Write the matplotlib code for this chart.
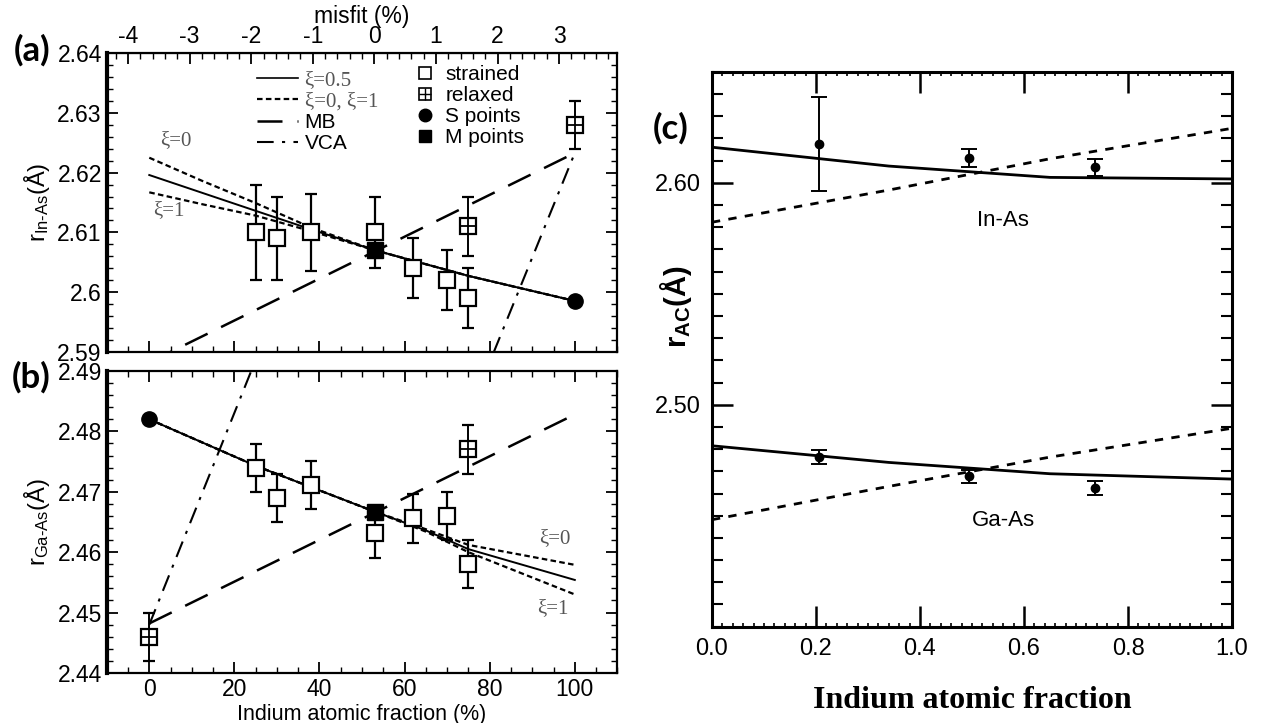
import matplotlib
matplotlib.use('Agg')
import matplotlib.pyplot as plt
from matplotlib.ticker import MultipleLocator, FuncFormatter
from matplotlib.lines import Line2D

plt.rcParams['font.family'] = ['Liberation Sans', 'DejaVu Sans']
plt.rcParams['mathtext.fontset'] = 'custom'
plt.rcParams['mathtext.rm'] = 'Liberation Sans'
plt.rcParams['mathtext.bf'] = 'Liberation Sans:bold'
plt.rcParams['mathtext.it'] = 'Liberation Sans:italic'
plt.rcParams['axes.unicode_minus'] = False

# ---- panels (a)/(b): bond lengths vs indium content (%) ----
x_strained = [25, 30, 38, 53, 62, 70, 75]
inas_strained = [2.610, 2.609, 2.610, 2.610, 2.604, 2.602, 2.599]
inas_strained_err = [0.008, 0.007, 0.0065, 0.006, 0.005, 0.005, 0.005]
gaas_strained = [2.4739, 2.469, 2.4711, 2.4631, 2.4656, 2.466, 2.458]
gaas_strained_err = [0.004, 0.004, 0.004, 0.004, 0.004, 0.004, 0.004]

x_relaxed_a = [75, 100]
inas_relaxed = [2.611, 2.628]
inas_relaxed_err = [0.005, 0.004]
x_relaxed_b = [0, 75]
gaas_relaxed = [2.446, 2.477]
gaas_relaxed_err = [0.004, 0.004]

s_point_a = ([100], [2.5985])
m_point_a = ([53], [2.607])
s_point_b = ([0], [2.482])
m_point_b = ([53], [2.4667])

x_curve_a = [0, 12.5, 25, 38, 53, 75, 100]
inas_xi05 = [2.6196, 2.6166, 2.6136, 2.6105, 2.607, 2.6027, 2.5985]
inas_xi0 = [2.6225, 2.6186, 2.6149, 2.6108, 2.607, 2.6027, 2.5985]
inas_xi1 = [2.6167, 2.6147, 2.6128, 2.6102, 2.607, 2.6027, 2.5985]

x_curve_b = [0, 25, 53, 65, 75, 100]
gaas_xi05 = [2.482, 2.4743, 2.4667, 2.4636, 2.4605, 2.4554]
gaas_xi0 = [2.482, 2.4743, 2.4667, 2.4638, 2.4612, 2.4579]
gaas_xi1 = [2.482, 2.4743, 2.4667, 2.4634, 2.4600, 2.4530]

x_ends = [0, 100]
inas_mb = [2.5882, 2.6233]
gaas_mb = [2.4482, 2.4828]
vca = [2.448, 2.6233]

misfit_ticks = [-4, -3, -2, -1, 0, 1, 2, 3]

# ---- panel (c): r_AC vs indium fraction ----
c_x = [0.0, 0.34, 0.65, 1.0]
c_inas_solid = [2.616, 2.6075, 2.6024, 2.6017]
c_inas_dash = [2.5822, 2.5967, 2.6108, 2.6245]
c_gaas_solid = [2.4815, 2.474, 2.4689, 2.4665]
c_gaas_dash = [2.4482, 2.4632, 2.4764, 2.4894]

c_pts_x = [0.205, 0.495, 0.737]
c_inas_pts = [2.6174, 2.611, 2.6069]
c_inas_err = [0.021, 0.004, 0.004]
c_gaas_pts = [2.4764, 2.4678, 2.4625]
c_gaas_err = [0.003, 0.003, 0.003]

DOT = (2.5, 1.5)
LONG = (10, 6)
DASHDOT = (8, 4, 1.5, 4)
SERIF = 'Liberation Serif'
GREY = '#555555'

fig = plt.figure(figsize=(12.63, 7.23), dpi=100)
ax_a = fig.add_axes([0.0845, 0.5136, 0.4043, 0.4127])
ax_b = fig.add_axes([0.0845, 0.0692, 0.4043, 0.4177])
ax_c = fig.add_axes([0.5637, 0.1332, 0.4118, 0.7676])


def style_ab(ax, ylim):
    ax.set_xlim(-10, 110)
    ax.set_ylim(*ylim)
    ax.xaxis.set_major_locator(MultipleLocator(20))
    ax.xaxis.set_minor_locator(MultipleLocator(5))
    ax.yaxis.set_major_locator(MultipleLocator(0.01))
    ax.yaxis.set_minor_locator(MultipleLocator(0.002))
    ax.yaxis.set_major_formatter(FuncFormatter(lambda v, p: '%g' % round(v, 3)))
    ax.tick_params(which='both', direction='in', top=True, right=True,
                   labelsize=16.5)
    ax.tick_params(which='major', length=8, width=1.3)
    ax.tick_params(which='minor', length=4, width=1.0)
    for s in ax.spines.values():
        s.set_linewidth(1.6)
    ax.spines['left'].set_linewidth(3)


def draw_set(ax, xc, xi05, xi0, xi1, mb, xs, ys, es, xr, yr, er, sp, mp):
    ax.plot(x_ends, mb, color='k', lw=1.8, dashes=LONG, zorder=2)
    ax.plot(x_ends, vca, color='k', lw=1.5, dashes=DASHDOT, zorder=2)
    ax.plot(xc, xi0, color='k', lw=1.6, dashes=DOT, zorder=2)
    ax.plot(xc, xi1, color='k', lw=1.6, dashes=DOT, zorder=2)
    ax.plot(xc, xi05, color='k', lw=1.4, zorder=2)
    ax.errorbar(xs, ys, yerr=es, fmt='s', ms=11, mfc='white', mec='k',
                mew=1.6, ecolor='k', elinewidth=1.6, capsize=4,
                capthick=1.4, zorder=4)
    ax.errorbar(xr, yr, yerr=er, fmt='s', ms=11, mfc='white', mec='k',
                mew=1.6, ecolor='k', elinewidth=1.4, capsize=4,
                capthick=1.4, zorder=4)
    ax.plot(xr, yr, '+', ms=11, mew=1.3, color='k', zorder=5)
    ax.plot(*sp, 'o', ms=11, color='k', zorder=5)
    ax.plot(*mp, 's', ms=11, color='k', zorder=5)


# panel (a)
style_ab(ax_a, (2.59, 2.64))
ax_a.tick_params(which='both', top=False, labelbottom=False)
draw_set(ax_a, x_curve_a, inas_xi05, inas_xi0, inas_xi1, inas_mb,
         x_strained, inas_strained, inas_strained_err,
         x_relaxed_a, inas_relaxed, inas_relaxed_err, s_point_a, m_point_a)
ax_a.set_ylabel(r'r$_{\text{In-As}}$(Å)', fontsize=17, labelpad=4)
ax_a.text(6.3, 2.6253, 'ξ=0', family=SERIF, color=GREY, fontsize=15,
          ha='center', va='center')
ax_a.text(4.7, 2.6136, 'ξ=1', family=SERIF, color=GREY, fontsize=15,
          ha='center', va='center')

sec = ax_a.secondary_xaxis('top', functions=(lambda x: (x - 52.9) / 14.47,
                                              lambda m: m * 14.47 + 52.9))
sec.set_xticks(misfit_ticks)
sec.xaxis.set_minor_locator(MultipleLocator(0.2))
sec.tick_params(which='both', direction='in', labelsize=16.5)
sec.tick_params(which='major', length=8, width=1.3)
sec.tick_params(which='minor', length=4, width=1.0)
sec.set_xlabel('misfit (%)', fontsize=16.5, labelpad=2)

line_handles = [Line2D([], [], color='k', lw=1.2),
                Line2D([], [], color='k', lw=1.6, dashes=DOT),
                Line2D([], [], color='k', lw=1.8, dashes=LONG),
                Line2D([], [], color='k', lw=1.5, dashes=DASHDOT)]
leg1 = ax_a.legend(line_handles, ['ξ=0.5', 'ξ=0, ξ=1', 'MB', 'VCA'],
                   loc='upper left', bbox_to_anchor=(0.265, 0.99),
                   frameon=False, fontsize=15, handlelength=2.0,
                   handletextpad=0.3, labelspacing=0.08, borderpad=0.2)
for t in leg1.get_texts()[:2]:
    t.set_family(SERIF)
    t.set_color(GREY)
ax_a.add_artist(leg1)

sq_open = Line2D([], [], ls='none', marker='s', ms=8, mfc='white', mec='k', mew=1.2)
sq_plus = Line2D([], [], ls='none', marker='+', ms=8, mew=1.0, color='k')
marker_handles = [sq_open, (sq_open, sq_plus),
                  Line2D([], [], ls='none', marker='o', ms=9, color='k'),
                  Line2D([], [], ls='none', marker='s', ms=9, color='k')]
ax_a.legend(marker_handles, ['strained', 'relaxed', 'S points', 'M points'],
            loc='upper left', bbox_to_anchor=(0.575, 1.01), frameon=False,
            fontsize=15, handlelength=1.0, handletextpad=0.45,
            labelspacing=0.1, borderpad=0.2)

# panel (b)
style_ab(ax_b, (2.44, 2.49))
draw_set(ax_b, x_curve_b, gaas_xi05, gaas_xi0, gaas_xi1, gaas_mb,
         x_strained, gaas_strained, gaas_strained_err,
         x_relaxed_b, gaas_relaxed, gaas_relaxed_err, s_point_b, m_point_b)
ax_b.set_ylabel(r'r$_{\text{Ga-As}}$(Å)', fontsize=17, labelpad=4)
ax_b.set_xlabel('Indium atomic fraction (%)', fontsize=15.5, labelpad=2)
ax_b.text(95.3, 2.4623, 'ξ=0', family=SERIF, color=GREY, fontsize=15,
          ha='center', va='center')
ax_b.text(94.9, 2.4507, 'ξ=1', family=SERIF, color=GREY, fontsize=15,
          ha='center', va='center')

# panel (c)
ax_c.set_xlim(0, 1)
ax_c.set_ylim(2.40, 2.65)
ax_c.plot(c_x, c_inas_solid, color='k', lw=2.0)
ax_c.plot(c_x, c_inas_dash, color='k', lw=2.0, dashes=(3, 3))
ax_c.plot(c_x, c_gaas_solid, color='k', lw=2.0)
ax_c.plot(c_x, c_gaas_dash, color='k', lw=2.0, dashes=(3, 3))
ax_c.errorbar(c_pts_x, c_inas_pts, yerr=c_inas_err, fmt='o', ms=6,
              color='k', elinewidth=1.4, capsize=6, capthick=1.4, zorder=4)
ax_c.errorbar(c_pts_x, c_gaas_pts, yerr=c_gaas_err, fmt='o', ms=6,
              color='k', elinewidth=1.4, capsize=6, capthick=1.4, zorder=4)
ax_c.text(0.56, 2.583, 'In-As', fontsize=16, ha='center', va='center')
ax_c.text(0.56, 2.448, 'Ga-As', fontsize=16, ha='center', va='center')

ax_c.set_yticks([2.50, 2.60])
ax_c.yaxis.set_minor_locator(MultipleLocator(0.01))
ax_c.yaxis.set_major_formatter(FuncFormatter(lambda v, p: '%.2f' % v))
ax_c.xaxis.set_major_locator(MultipleLocator(0.2))
ax_c.xaxis.set_minor_locator(MultipleLocator(0.02))
ax_c.xaxis.set_major_formatter(FuncFormatter(lambda v, p: '%.1f' % v))
ax_c.tick_params(which='both', direction='in', top=True, right=True,
                 labelsize=17)
ax_c.tick_params(which='major', length=15, width=1.8, pad=8)
ax_c.tick_params(axis='y', which='minor', length=8, width=1.5)
ax_c.tick_params(axis='x', which='minor', length=3, width=1.2)
for s in ax_c.spines.values():
    s.set_linewidth(2.2)
ax_c.set_xlabel('Indium atomic fraction', family=SERIF, fontweight='bold',
                fontsize=23, labelpad=19)
ax_c.set_ylabel(r'r$_{\mathbf{AC}}$(Å)', fontsize=21, fontweight='bold')
ax_c.yaxis.set_label_coords(-0.035, 0.576)

# panel tags
for tag, xf, yf in [('(a)', 0.025, 0.930), ('(b)', 0.025, 0.478),
                    ('(c)', 0.531, 0.823)]:
    fig.text(xf, yf, tag, fontsize=25, fontweight='bold', ha='center',
             va='center', family=['Lato', 'DejaVu Sans'])

fig.savefig('out.png', dpi=100)
